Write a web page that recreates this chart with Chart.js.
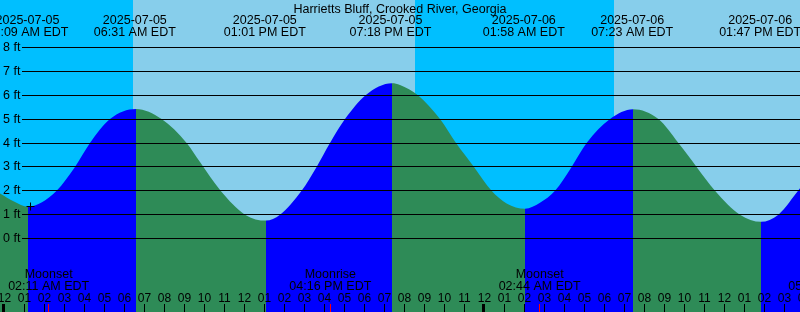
<!DOCTYPE html>
<html>
<head>
<meta charset="utf-8">
<title>Harrietts Bluff tides</title>
<script src="https://cdn.jsdelivr.net/npm/chart.js@4.4.1/dist/chart.umd.min.js"></script>
<style>
  html, body { margin: 0; padding: 0; background: #fff; }
  #wrap { width: 800px; height: 312px; }
</style>
</head>
<body>
<div id="wrap"><canvas id="tide-chart" width="800" height="312"></canvas></div>
<script>
const STATION = 'Harrietts Bluff, Crooked River, Georgia';

// tide curve: hours after 2025-07-05 00:00 EDT -> feet
const tideHours = [-0.25, 0.45, 1.15, 1.85, 2.58, 3.5, 4.25, 5.25, 6.55, 7.83, 9.08, 9.75, 10.78, 12.0,
  13.05, 13.75, 14.83, 15.58, 16.25, 17.0, 18.03, 19.35, 19.75, 20.65, 21.75, 22.55, 23.45, 24.33,
  25.08, 26.0, 26.75, 27.5, 28.33, 29.08, 30.25, 31.4, 32.67, 33.67, 34.58, 35.5, 36.75, 37.8,
  38.67, 39.75];
const tideFeet = [1.89, 1.55, 1.33, 1.52, 2.0, 3.0, 4.0, 5.0, 5.42, 5.0, 4.0, 3.2, 2.0, 1.0,
  0.75, 1.0, 2.0, 3.0, 4.0, 5.0, 6.0, 6.5, 6.43, 6.0, 5.0, 4.0, 3.0, 2.0,
  1.47, 1.25, 1.5, 2.0, 3.0, 4.0, 5.0, 5.41, 5.0, 4.0, 3.0, 2.0, 1.0, 0.7,
  1.0, 2.1];

// highs and lows written along the top
const eventHours = [1.15, 6.517, 13.017, 19.3, 25.967, 31.383, 37.783];
const eventDates = ['2025-07-05', '2025-07-05', '2025-07-05', '2025-07-05', '2025-07-06', '2025-07-06', '2025-07-06'];
const eventTimes = ['01:09 AM EDT', '06:31 AM EDT', '01:01 PM EDT', '07:18 PM EDT', '01:58 AM EDT', '07:23 AM EDT', '01:47 PM EDT'];

// moon events along the bottom
const moonHours = [2.183, 16.267, 26.733, 41.217];
const moonNames = ['Moonset', 'Moonrise', 'Moonset', 'Moonrise'];
const moonTimes = ['02:11 AM EDT', '04:16 PM EDT', '02:44 AM EDT', '05:13 PM EDT'];

// daylight
const sunriseHours = [6.4, 30.45];
const sunsetHours = [20.5, 44.55];

// the little cross
const markHours = [1.275];
const markFeet = [1.34];

const feetTicks = [0, 1, 2, 3, 4, 5, 6, 7, 8];
const hourLabels = ['11', '12', '01', '02', '03', '04', '05', '06', '07', '08', '09', '10', '11',
  '12', '01', '02', '03', '04', '05', '06', '07', '08', '09', '10', '11',
  '12', '01', '02', '03', '04', '05', '06', '07', '08', '09', '10', '11',
  '12', '01', '02', '03', '04'];
const firstHour = -1;

const NIGHT = '#00BFFF';
const DAY = '#87CEEB';
const FLOOD = '#0000FF';
const EBB = '#2E8B57';
const FAMILY = '"Liberation Sans", Arial, sans-serif';

const tideDecor = {
    id: 'tideDecor',
    beforeDatasetsDraw(chart) {
        const { ctx, chartArea: a, scales: { x } } = chart;
        ctx.save();
        ctx.fillStyle = NIGHT;
        ctx.fillRect(a.left, a.top, a.width, a.height);
        ctx.fillStyle = DAY;
        sunriseHours.forEach((h, i) => {
            const x0 = Math.round(x.getPixelForValue(h));
            const x1 = Math.round(x.getPixelForValue(sunsetHours[i]));
            ctx.fillRect(x0, a.top, x1 - x0, a.height);
        });
        ctx.restore();
    },
    afterDatasetsDraw(chart) {
        // foot lines and labels, drawn over the water
        const { ctx, chartArea: a, scales: { y } } = chart;
        ctx.save();
        ctx.strokeStyle = '#000';
        ctx.fillStyle = '#000';
        ctx.lineWidth = 1;
        ctx.font = '12.5px ' + FAMILY;
        ctx.textAlign = 'left';
        ctx.textBaseline = 'middle';
        feetTicks.forEach(v => {
            const py = Math.floor(y.getPixelForValue(v)) + 0.5;
            ctx.beginPath();
            ctx.moveTo(22, py);
            ctx.lineTo(a.right, py);
            ctx.stroke();
            ctx.fillText(v + ' ft', 3, py + 0.5);
        });
        ctx.restore();
    },
    afterDraw(chart) {
        const { ctx, scales: { x } } = chart;
        ctx.save();
        ctx.fillStyle = '#000';
        ctx.font = '12.5px ' + FAMILY;
        ctx.textAlign = 'center';
        ctx.textBaseline = 'alphabetic';

        ctx.fillText(STATION, 400, 12.5);

        eventHours.forEach((h, i) => {
            const px = x.getPixelForValue(h) - 0.5;
            ctx.fillText(eventDates[i], px, 24);
            ctx.fillText(eventTimes[i], px, 36);
        });

        moonHours.forEach((h, i) => {
            const px = x.getPixelForValue(h);
            ctx.fillText(moonNames[i], px, 278);
            ctx.fillText(moonTimes[i], px, 290);
        });

        // hour labels and tick marks
        ctx.font = '12px ' + FAMILY;
        hourLabels.forEach((lbl, i) => {
            const h = firstHour + i;
            const px = Math.round(x.getPixelForValue(h));
            ctx.fillText(lbl, px - 0.5, 302);
            if (h % 24 === 0) {
                ctx.fillRect(px - 3, 304, 3, 8);
            } else {
                ctx.fillRect(px - 1, 304, 1, 8);
            }
        });

        ctx.fillStyle = '#FF0000';
        moonHours.forEach(h => {
            const px = Math.floor(x.getPixelForValue(h));
            ctx.fillRect(px, 304, 1, 8);
        });
        ctx.restore();
    }
};

const tidePoints = tideHours.map((h, i) => ({ x: h, y: tideFeet[i] }));
const markPoints = markHours.map((h, i) => ({ x: h, y: markFeet[i] }));

new Chart(document.getElementById('tide-chart').getContext('2d'), {
    type: 'line',
    data: {
        datasets: [
            {
                label: 'Mark',
                data: markPoints,
                showLine: false,
                pointStyle: 'cross',
                pointRadius: 4,
                borderColor: '#000',
                borderWidth: 1,
                order: 0
            },
            {
                label: 'Tide',
                data: tidePoints,
                fill: 'start',
                borderWidth: 0,
                borderColor: 'rgba(0,0,0,0)',
                backgroundColor: EBB,
                pointRadius: 0,
                cubicInterpolationMode: 'monotone',
                segment: {
                    // rising water blue, falling water green
                    backgroundColor: c => c.p1.parsed.y >= c.p0.parsed.y ? FLOOD : EBB
                },
                order: 1
            }
        ]
    },
    options: {
        responsive: false,
        animation: false,
        events: [],
        layout: { padding: 0, autoPadding: false },
        plugins: {
            legend: { display: false },
            tooltip: { enabled: false }
        },
        scales: {
            x: { type: 'linear', min: -0.25, max: 39.75, display: false },
            y: { type: 'linear', min: -3.0785, max: 9.9895, display: false }
        }
    },
    plugins: [tideDecor]
});
</script>
</body>
</html>
